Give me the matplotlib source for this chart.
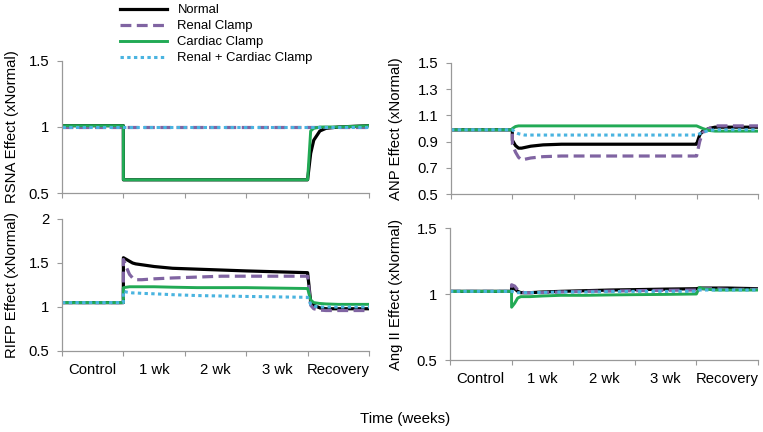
import matplotlib
matplotlib.use('Agg')
import matplotlib.pyplot as plt
import numpy as np

plt.rcParams['font.family'] = ['Liberation Sans', 'DejaVu Sans']

# time axis in weeks: control 0-1, clamp 1-4, recovery 4-5
t = [0, 0.999, 1.0, 1.05, 1.1, 1.15, 1.2, 1.3, 1.5, 1.8, 2.2, 2.6, 3.0, 3.5,
     3.999, 4.0, 4.05, 4.1, 4.2, 4.3, 4.5, 5.0]

series_names = ['Normal', 'Renal Clamp', 'Cardiac Clamp', 'Renal + Cardiac Clamp']
period_labels = ['Control', '1 wk', '2 wk', '3 wk', 'Recovery']

# RSNA effect
rsna_normal = [1.01, 1.01, 0.6, 0.6, 0.6, 0.6, 0.6, 0.6, 0.6, 0.6, 0.6, 0.6, 0.6, 0.6,
               0.6, 0.6, 0.80, 0.90, 0.97, 0.99, 1.0, 1.01]
rsna_renal = [1.0] * 22
rsna_cardiac = [1.01, 1.01, 0.6, 0.6, 0.6, 0.6, 0.6, 0.6, 0.6, 0.6, 0.6, 0.6, 0.6, 0.6,
                0.6, 0.6, 0.97, 0.99, 1.0, 1.0, 1.0, 1.01]
rsna_rc = [1.0] * 22

# ANP effect
anp_normal = [0.99, 0.99, 0.91, 0.87, 0.85, 0.85, 0.855, 0.865, 0.875, 0.88, 0.88, 0.88,
              0.88, 0.88, 0.88, 0.88, 0.95, 0.98, 1.0, 1.01, 1.01, 1.01]
anp_renal = [0.99, 0.99, 0.88, 0.82, 0.78, 0.76, 0.765, 0.775, 0.785, 0.79, 0.79, 0.79,
             0.79, 0.79, 0.79, 0.79, 0.90, 0.97, 1.0, 1.02, 1.02, 1.02]
anp_cardiac = [0.99, 0.99, 1.0, 1.015, 1.02, 1.02, 1.02, 1.02, 1.02, 1.02, 1.02, 1.02,
               1.02, 1.02, 1.02, 1.02, 1.01, 1.0, 0.985, 0.98, 0.98, 0.98]
anp_rc = [0.99, 0.99, 0.99, 0.97, 0.96, 0.955, 0.95, 0.95, 0.95, 0.95, 0.95, 0.95,
          0.95, 0.95, 0.95, 0.95, 0.96, 0.97, 0.985, 0.99, 0.99, 0.99]

# RIFP effect
rifp_normal = [1.05, 1.05, 1.56, 1.54, 1.52, 1.50, 1.49, 1.48, 1.46, 1.44, 1.43, 1.42,
               1.41, 1.40, 1.39, 1.39, 1.06, 1.02, 0.99, 0.98, 0.98, 0.98]
rifp_renal = [1.05, 1.05, 1.54, 1.45, 1.37, 1.33, 1.31, 1.31, 1.32, 1.33, 1.34, 1.35,
              1.35, 1.35, 1.35, 1.35, 1.02, 0.98, 0.965, 0.96, 0.96, 0.96]
rifp_cardiac = [1.05, 1.05, 1.22, 1.225, 1.23, 1.23, 1.23, 1.23, 1.23, 1.225, 1.22, 1.22,
                1.22, 1.215, 1.21, 1.21, 1.08, 1.05, 1.04, 1.035, 1.03, 1.03]
rifp_rc = [1.05, 1.05, 1.18, 1.17, 1.165, 1.16, 1.16, 1.155, 1.15, 1.14, 1.13, 1.125,
           1.12, 1.115, 1.11, 1.11, 1.03, 1.01, 1.0, 1.0, 1.0, 1.0]

# Ang II effect
ang_normal = [1.02, 1.02, 1.05, 1.04, 1.02, 1.01, 1.01, 1.01, 1.015, 1.02, 1.025, 1.03,
              1.033, 1.037, 1.04, 1.04, 1.045, 1.045, 1.045, 1.045, 1.045, 1.04]
ang_renal = [1.02, 1.02, 1.07, 1.06, 1.03, 1.02, 1.01, 1.01, 1.01, 1.015, 1.02, 1.022,
             1.025, 1.028, 1.03, 1.03, 1.04, 1.04, 1.04, 1.04, 1.035, 1.035]
ang_cardiac = [1.02, 1.02, 0.90, 0.93, 0.97, 0.98, 0.98, 0.98, 0.985, 0.99, 0.99, 0.993,
               0.995, 0.997, 1.0, 1.0, 1.05, 1.04, 1.035, 1.03, 1.03, 1.03]
ang_rc = [1.02, 1.02, 1.02, 1.015, 1.01, 1.01, 1.01, 1.01, 1.012, 1.015, 1.015, 1.018,
          1.02, 1.02, 1.02, 1.02, 1.03, 1.03, 1.03, 1.03, 1.03, 1.03]

styles = [
    dict(color='black', lw=2.3, ls='-'),
    dict(color='#8064A2', lw=2.3, ls=(0, (3.4, 1.7))),
    dict(color='#22AA55', lw=2.1, ls='-'),
    dict(color='#4AB4E0', lw=2.2, ls=(0, (1.1, 1.1))),
]

panels = [
    ([62, 61, 369, 193], 'RSNA Effect (xNormal)', (0.5, 1.5), [0.5, 1, 1.5], ['0.5', '1', '1.5'],
     [rsna_normal, rsna_renal, rsna_cardiac, rsna_rc], False),
    ([451, 63, 758, 194], 'ANP Effect (xNormal)', (0.5, 1.5), [0.5, 0.7, 0.9, 1.1, 1.3, 1.5],
     ['0.5', '0.7', '0.9', '1.1', '1.3', '1.5'],
     [anp_normal, anp_renal, anp_cardiac, anp_rc], False),
    ([62, 219, 369, 351], 'RIFP Effect (xNormal)', (0.5, 2.0), [0.5, 1, 1.5, 2], ['0.5', '1', '1.5', '2'],
     [rifp_normal, rifp_renal, rifp_cardiac, rifp_rc], True),
    ([450, 228, 758, 360], 'Ang II Effect (xNormal)', (0.5, 1.5), [0.5, 1, 1.5], ['0.5', '1', '1.5'],
     [ang_normal, ang_renal, ang_cardiac, ang_rc], True),
]

W, H = 763, 432
fig = plt.figure(figsize=(W / 100, H / 100), dpi=100)
gray = '#999999'
fs = 10.7

for (l, tp, r, b), ylab, ylim, yt, ytl, data, show_x in panels:
    ax = fig.add_axes([l / W, 1 - b / H, (r - l) / W, (b - tp) / H])
    lines = []
    for vals, st, name in zip(data, styles, series_names):
        ln, = ax.plot(t, vals, label=name, solid_joinstyle='round', **st)
        lines.append(ln)
    ax.set_xlim(0, 5)
    ax.set_ylim(*ylim)
    ax.set_yticks(yt)
    ax.set_yticklabels(ytl, fontsize=fs)
    ax.set_xticks(np.arange(0, 6))
    ax.set_xticklabels([])
    ax.set_xticks(np.arange(0.5, 5, 1), minor=True)
    if show_x:
        ax.set_xticklabels(period_labels, minor=True, fontsize=fs)
    ax.tick_params(axis='x', which='minor', length=0, pad=8.3)
    ax.tick_params(axis='x', which='major', length=3.5, color=gray, direction='out')
    ax.tick_params(axis='y', length=3.5, color=gray, pad=5.5)
    for s in ['top', 'right']:
        ax.spines[s].set_visible(False)
    for s in ['left', 'bottom']:
        ax.spines[s].set_color(gray)
        ax.spines[s].set_linewidth(0.9)
    xl = 12 if l < 300 else 396
    fig.text(xl / W, 1 - (tp + b) / 2 / H, ylab, rotation=90, ha='center', va='center', fontsize=fs)

fig.legend(handles=lines, loc='upper left', bbox_to_anchor=(120 / W, 1 - 4 / H),
           frameon=False, fontsize=9.4, borderpad=0, borderaxespad=0,
           handlelength=3.6, handletextpad=0.8, labelspacing=0.3)

fig.text(405 / W, 1 - 419 / H, 'Time (weeks)', ha='center', va='center', fontsize=10.9)

fig.savefig('out.png', dpi=100)
